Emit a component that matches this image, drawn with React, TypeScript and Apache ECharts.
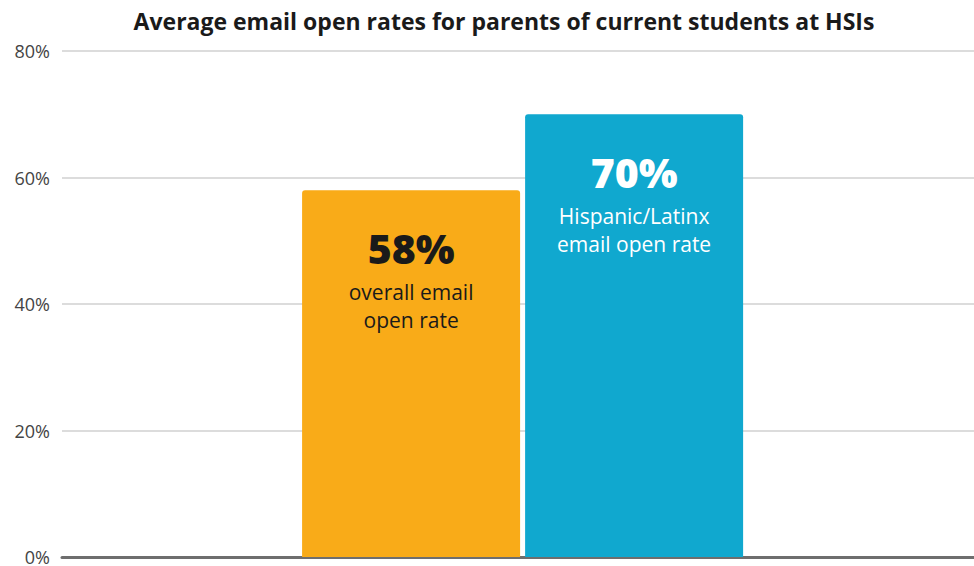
import React, { useEffect, useRef } from "react";
import * as echarts from "echarts";

const categories = [""];
const seriesNames = ["overall", "Hispanic/Latinx"];
const overallValues = [58];
const latinxValues = [70];
const overallLabel = ["overall email", "open rate"];
const latinxLabel = ["Hispanic/Latinx", "email open rate"];
const yTicks = { min: 0, max: 80, interval: 20 };
const titleText = "Average email open rates for parents of current students at HSIs";

const FONT = "'Open Sans', Lato, sans-serif";

export default function App() {
  const ref = useRef<HTMLDivElement>(null);
  useEffect(() => {
    document.body.style.margin = "0";
    const chart = echarts.init(ref.current!, undefined, { renderer: "svg" });
    const mkLabel = (lines: string[], color: string) => ({
      show: true,
      position: "insideTop",
      distance: 28,
      formatter: (p: any) => `{a|${p.value}%}\n` + lines.map((l) => `{b|${l}}`).join("\n"),
      rich: {
        a: { fontSize: 41, fontWeight: 800, lineHeight: 60, color, fontFamily: FONT, align: "center" },
        b: { fontSize: 21, lineHeight: 28, color, fontFamily: FONT, align: "center" },
      },
    });
    chart.setOption({
      animation: false,
      textStyle: { fontFamily: FONT },
      title: {
        text: titleText,
        left: 499,
        textAlign: "center",
        top: 4,
        textStyle: { fontSize: 23, fontWeight: "bold", color: "#1a1a1a", fontFamily: FONT },
      },
      grid: { left: 62, right: 0, top: 51, bottom: 7.5, containLabel: false },
      xAxis: {
        type: "category",
        data: categories,
        axisLine: { show: true, lineStyle: { color: "#6e6e6e", width: 3 } },
        axisTick: { show: false },
        axisLabel: { show: false },
      },
      yAxis: {
        type: "value",
        min: yTicks.min,
        max: yTicks.max,
        interval: yTicks.interval,
        axisLine: { show: false },
        axisTick: { show: false },
        axisLabel: {
          formatter: "{value}%",
          fontSize: 18,
          color: "#444",
          margin: 12,
          fontFamily: FONT,
        },
        splitLine: { lineStyle: { color: "#dcdcdc", width: 2 } },
      },
      series: [
        {
          name: "spacer",
          type: "bar",
          data: [0],
          barWidth: 9,
          barGap: "2.3%",
          silent: true,
          itemStyle: { color: "rgba(0,0,0,0)" },
        },
        {
          name: seriesNames[0],
          type: "bar",
          data: overallValues,
          barWidth: 218,
          barGap: "2.3%",
          itemStyle: { color: "#F9AB18", borderRadius: [3, 3, 0, 0] },
          label: mkLabel(overallLabel, "#1a1a1a"),
        },
        {
          name: seriesNames[1],
          type: "bar",
          data: latinxValues,
          barWidth: 218,
          barGap: "2.3%",
          itemStyle: { color: "#10A8CF", borderRadius: [3, 3, 0, 0] },
          label: mkLabel(latinxLabel, "#ffffff"),
        },
      ],
    });
    return () => chart.dispose();
  }, []);
  return <div ref={ref} style={{ width: 974, height: 566 }} />;
}
